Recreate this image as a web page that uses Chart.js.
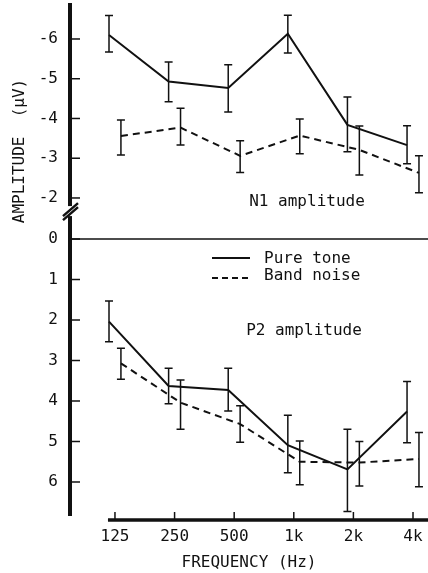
<!DOCTYPE html>
<html>
<head>
<meta charset="utf-8">
<script src="https://cdn.jsdelivr.net/npm/chart.js@4.4.1/dist/chart.umd.min.js"></script>
<style>
    html, body { margin: 0; padding: 0; background: #fff; }
    #caixa { width: 428px; height: 573px; }
</style>
</head>
<body>
<div id="caixa"><canvas id="grafico"></canvas></div>
<script>
// frequencias e rotulos
const freqs = [125, 250, 500, 1000, 2000, 4000];
const freqLabels = ['125', '250', '500', '1k', '2k', '4k'];
const n1Ticks = [-6, -5, -4, -3, -2];
const p2Ticks = [0, 1, 2, 3, 4, 5, 6];

// N1 (uV)
const n1Tone = [-6.10, -4.93, -4.77, -6.13, -3.84, -3.33];
const n1ToneLo = [-6.59, -5.42, -5.35, -6.60, -4.54, -3.82];
const n1ToneHi = [-5.67, -4.42, -4.16, -5.65, -3.16, -2.86];
const n1Noise = [-3.56, -3.77, -3.06, -3.57, -3.21, -2.63];
const n1NoiseLo = [-3.96, -4.26, -3.44, -3.99, -3.81, -3.06];
const n1NoiseHi = [-3.08, -3.33, -2.64, -3.11, -2.58, -2.13];

// P2 (uV)
const p2Tone = [2.04, 3.63, 3.73, 5.09, 5.69, 4.26];
const p2ToneLo = [1.53, 3.19, 3.19, 4.35, 4.70, 3.52];
const p2ToneHi = [2.54, 4.07, 4.25, 5.77, 6.73, 5.03];
const p2Noise = [3.07, 4.04, 4.57, 5.50, 5.52, 5.43];
const p2NoiseLo = [2.70, 3.48, 4.12, 4.99, 5.00, 4.78];
const p2NoiseHi = [3.46, 4.70, 5.02, 6.07, 6.10, 6.12];

const COR = '#111';
const FONTE = '"DejaVu Sans Mono", "Liberation Mono", monospace';
const fonte = { family: FONTE, size: 16 };

// pure tone um pouco a esquerda, band noise um pouco a direita (em oitavas)
const DESLOC_TOM = -0.1;
const DESLOC_RUIDO = 0.1;

function serie(valores, lo, hi, eixo, tracejado, desloc) {
    return {
        data: freqs.map((f, i) => ({ x: f * Math.pow(2, desloc), y: valores[i] })),
        erro: { lo: lo, hi: hi },
        yAxisID: eixo,
        borderColor: COR,
        borderWidth: 2,
        borderDash: tracejado ? [7, 5] : [],
        pointRadius: 0,
        fill: false,
        tension: 0
    };
}

const barrasErro = {
    id: 'barrasErro',
    afterDatasetsDraw(chart) {
        const c = chart.ctx;
        const xs = chart.scales.x;
        c.save();
        c.strokeStyle = COR;
        c.lineWidth = 1.5;
        chart.data.datasets.forEach(ds => {
            const ys = chart.scales[ds.yAxisID];
            ds.data.forEach((p, i) => {
                const x = xs.getPixelForValue(p.x);
                const y1 = ys.getPixelForValue(ds.erro.lo[i]);
                const y2 = ys.getPixelForValue(ds.erro.hi[i]);
                c.beginPath();
                c.moveTo(x, y1); c.lineTo(x, y2);
                c.moveTo(x - 4, y1); c.lineTo(x + 4, y1);
                c.moveTo(x - 4, y2); c.lineTo(x + 4, y2);
                c.stroke();
            });
        });
        c.restore();
    }
};

const decoracao = {
    id: 'decoracao',
    afterDraw(chart) {
        const c = chart.ctx;
        const { left, right, bottom } = chart.chartArea;
        const xs = chart.scales.x;
        const yN1 = chart.scales.yN1;
        const yP2 = chart.scales.yP2;
        c.save();
        c.strokeStyle = COR;
        c.fillStyle = COR;

        // marcas dos eixos y para dentro
        c.lineWidth = 1.5;
        [yN1, yP2].forEach(s => s.ticks.forEach(t => {
            const y = s.getPixelForValue(t.value);
            c.beginPath(); c.moveTo(left, y); c.lineTo(left + 10, y); c.stroke();
        }));

        // linha do zero
        const y0 = yP2.getPixelForValue(0);
        c.beginPath(); c.moveTo(left, y0); c.lineTo(right, y0); c.stroke();

        // quebra do eixo
        const yq = yN1.getPixelForValue(-1.67);
        c.fillStyle = '#fff';
        c.fillRect(left - 4, yq - 5, 8, 10);
        c.lineWidth = 2.5;
        c.beginPath();
        c.moveTo(left - 7, yq + 5); c.lineTo(left + 8, yq - 8);
        c.moveTo(left - 7, yq + 9); c.lineTo(left + 8, yq - 4);
        c.stroke();
        c.fillStyle = COR;

        // eixo x separado, com marcas para cima
        const ya = bottom + 5;
        c.lineWidth = 3.5;
        c.beginPath();
        c.moveTo(xs.getPixelForValue(freqs[0]) - 7, ya);
        c.lineTo(right, ya);
        c.stroke();
        c.lineWidth = 1.5;
        freqs.forEach(f => {
            const x = xs.getPixelForValue(f);
            c.beginPath(); c.moveTo(x, ya); c.lineTo(x, ya - 8); c.stroke();
        });

        // titulo do eixo y
        c.font = `16px ${FONTE}`;
        c.textAlign = 'center';
        c.textBaseline = 'middle';
        c.save();
        c.translate(20, 151);
        c.rotate(-Math.PI / 2);
        c.fillText('AMPLITUDE  (\u00b5V)', 0, 0);
        c.restore();

        // textos internos
        c.fillText('N1 amplitude', 307, 202);
        c.fillText('P2 amplitude', 304, 331);

        // legenda
        c.lineWidth = 2;
        c.beginPath(); c.moveTo(212, 258); c.lineTo(250, 258); c.stroke();
        c.setLineDash([6, 4]);
        c.beginPath(); c.moveTo(212, 278); c.lineTo(250, 278); c.stroke();
        c.setLineDash([]);
        c.textAlign = 'left';
        c.fillText('Pure tone', 264, 259);
        c.fillText('Band noise', 264, 276);
        c.restore();
    }
};

function eixoY(ticks, min, max, peso, ordem) {
    return {
        type: 'linear',
        position: 'left',
        stack: 'amp',
        stackWeight: peso,
        weight: ordem,
        reverse: true,
        min: min,
        max: max,
        bounds: 'data',
        afterBuildTicks: s => { s.ticks = ticks.map(v => ({ value: v })); },
        afterFit: s => {
            s.width = 70;
            s.paddingTop = 0;
            s.paddingBottom = 0;
        },
        grid: { display: false, drawTicks: false },
        border: { display: true, color: COR, width: 4 },
        ticks: {
            color: COR,
            font: fonte,
            padding: 12,
            callback: (v, i) => String(ticks[i])
        }
    };
}

const ctx = document.getElementById('grafico').getContext('2d');
const chart = new Chart(ctx, {
    type: 'line',
    data: {
        datasets: [
            serie(n1Tone, n1ToneLo, n1ToneHi, 'yN1', false, DESLOC_TOM),
            serie(n1Noise, n1NoiseLo, n1NoiseHi, 'yN1', true, DESLOC_RUIDO),
            serie(p2Tone, p2ToneLo, p2ToneHi, 'yP2', false, DESLOC_TOM),
            serie(p2Noise, p2NoiseLo, p2NoiseHi, 'yP2', true, DESLOC_RUIDO)
        ]
    },
    options: {
        responsive: true,
        maintainAspectRatio: false,
        animation: false,
        layout: { padding: { top: 5, left: 0, right: 0, bottom: 0 } },
        plugins: {
            legend: { display: false },
            tooltip: { enabled: false }
        },
        scales: {
            x: {
                type: 'logarithmic',
                min: 74.1,
                max: 4762,
                bounds: 'data',
                afterBuildTicks: s => { s.ticks = freqs.map(v => ({ value: v })); },
                afterFit: s => {
                    s.height = 58;
                    s.paddingLeft = 0;
                    s.paddingRight = 0;
                },
                grid: { display: false, drawTicks: false },
                border: { display: false },
                ticks: {
                    color: COR,
                    font: fonte,
                    padding: 12,
                    autoSkip: false,
                    maxRotation: 0,
                    callback: (v, i) => freqLabels[i]
                },
                title: {
                    display: true,
                    text: 'FREQUENCY (Hz)',
                    color: COR,
                    font: fonte,
                    padding: { top: 0, bottom: 1 }
                }
            },
            yP2: eixoY(p2Ticks, -0.346, 6.815, 290, 1),
            yN1: eixoY(n1Ticks, -6.855, -1.32, 220, 2)
        }
    },
    plugins: [barrasErro, decoracao]
});
</script>
</body>
</html>
